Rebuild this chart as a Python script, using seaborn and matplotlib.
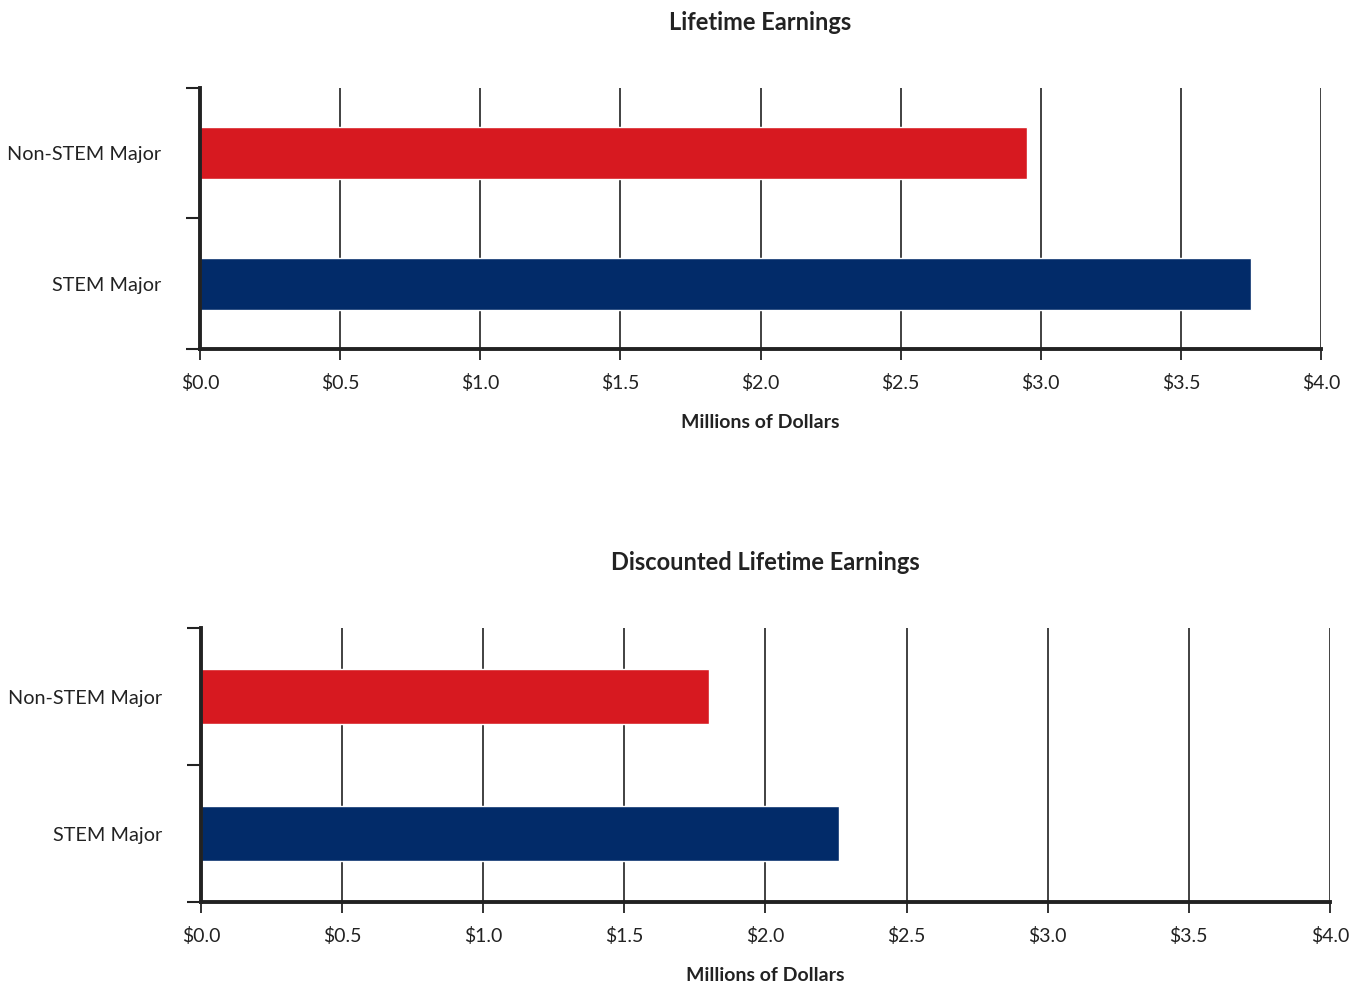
import matplotlib
matplotlib.use("Agg")
import matplotlib.pyplot as plt
import seaborn as sns
import pandas as pd
from matplotlib.ticker import FuncFormatter

# Data
categories = ["Non-STEM Major", "STEM Major"]
lifetime = [2.95, 3.75]
discounted = [1.80, 2.26]
titles = ["Lifetime Earnings", "Discounted Lifetime Earnings"]
x_ticks = [0.0, 0.5, 1.0, 1.5, 2.0, 2.5, 3.0, 3.5, 4.0]
colors = ["#D71920", "#022B69"]

sns.set_style("white")
plt.rcParams['font.family'] = ['Lato', 'DejaVu Sans']

fig = plt.figure(figsize=(13.61, 9.83), dpi=100)
ax1 = fig.add_axes([0.147, 0.645, 0.8236, 0.2655])
ax2 = fig.add_axes([0.1477, 0.0824, 0.8295, 0.2787])

for ax, vals, title in [(ax1, lifetime, titles[0]), (ax2, discounted, titles[1])]:
    df = pd.DataFrame({'category': categories, 'value': vals})
    sns.barplot(data=df, x='value', y='category', hue='category',
                palette=colors, orient='h', width=0.4, legend=False,
                saturation=1, ax=ax)
    ax.set_xlim(0, 4.0)
    ax.set_ylim(1.5, -0.5)
    ax.set_xticks(x_ticks)
    ax.xaxis.set_major_formatter(FuncFormatter(lambda v, p: f"${v:.1f}"))
    ax.grid(axis='x', color='#333333', linewidth=1.3)
    ax.set_axisbelow(True)
    # category edge ticks on the y axis
    ax.set_yticks([-0.5, 0.5, 1.5], minor=True)
    ax.tick_params(axis='y', which='minor', length=10, width=1.5, color='#222222', left=True)
    ax.tick_params(axis='y', which='major', length=0, labelsize=14.3, pad=28, labelcolor='#222222')
    ax.tick_params(axis='x', which='major', length=8, width=1.3, color='#222222',
                   bottom=True, labelsize=14, pad=10, labelcolor='#222222')
    for s in ['top', 'right']:
        ax.spines[s].set_visible(False)
    for s in ['left', 'bottom']:
        ax.spines[s].set_color('#222222')
        ax.spines[s].set_linewidth(2.8)
    ax.set_ylabel('')
    ax.set_xlabel('Millions of Dollars', fontsize=14, fontweight='bold',
                  color='#222222', labelpad=16)
    ax.set_title(title, fontsize=17, fontweight='bold', color='#222222', pad=42)

fig.savefig('out.png', dpi=100)
